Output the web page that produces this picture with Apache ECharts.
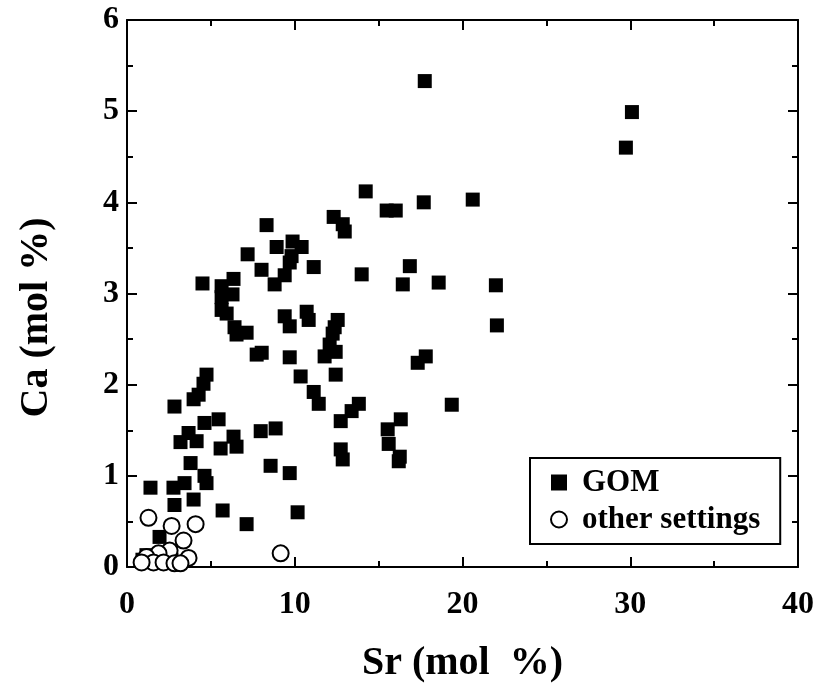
<!DOCTYPE html>
<html lang="en">
<head>
  <meta charset="UTF-8">
  <title>Ca vs Sr</title>
  <script src="https://cdn.jsdelivr.net/npm/echarts@6/dist/echarts.min.js"></script>
</head>
<body style="margin:0;background:#fff;">
  <div id="main" style="width:816px;height:687px;"></div>
  <script>
    // GOM samples: [Sr mol %, Ca mol %]
    var gomData = [
      [17.75, 5.33], [30.10, 4.99], [29.74, 4.60], [14.23, 4.12], [20.61, 4.03],
      [17.69, 4.00], [15.48, 3.91], [16.02, 3.91], [12.32, 3.84], [12.86, 3.76],
      [12.98, 3.68], [8.32, 3.75], [9.87, 3.57], [10.41, 3.51], [8.92, 3.51],
      [9.81, 3.41], [7.19, 3.43], [9.70, 3.34], [9.40, 3.20], [8.02, 3.26],
      [11.13, 3.29], [13.99, 3.21], [16.86, 3.30], [6.35, 3.16], [4.50, 3.11],
      [8.80, 3.10], [16.44, 3.10], [18.58, 3.12], [21.99, 3.09], [5.64, 3.08],
      [6.29, 2.99], [5.64, 2.96], [5.64, 2.82], [5.94, 2.78], [6.41, 2.63],
      [6.53, 2.55], [7.13, 2.57], [10.71, 2.80], [10.83, 2.71], [9.40, 2.75],
      [9.70, 2.64], [12.56, 2.71], [12.38, 2.63], [12.26, 2.56], [22.05, 2.65],
      [7.73, 2.33], [8.03, 2.35], [12.08, 2.44], [12.44, 2.36], [11.78, 2.31],
      [9.70, 2.30], [17.81, 2.31], [17.33, 2.24], [10.35, 2.09], [12.44, 2.11],
      [4.74, 2.11], [4.56, 2.01], [4.27, 1.89], [3.97, 1.84], [11.13, 1.92],
      [11.43, 1.79], [13.82, 1.79], [13.39, 1.71], [19.36, 1.78], [2.83, 1.76],
      [5.46, 1.62], [4.62, 1.58], [12.74, 1.60], [16.32, 1.62], [15.54, 1.51],
      [15.60, 1.35], [6.35, 1.43], [7.97, 1.49], [8.86, 1.52], [3.67, 1.47],
      [4.15, 1.38], [3.19, 1.37], [6.53, 1.32], [5.58, 1.30], [12.74, 1.29],
      [12.86, 1.18], [16.26, 1.21], [16.20, 1.16], [3.79, 1.14], [9.70, 1.03],
      [4.62, 1.00], [8.56, 1.11], [4.74, 0.92], [3.43, 0.92], [2.77, 0.87],
      [1.40, 0.87], [3.97, 0.74], [2.83, 0.68], [5.70, 0.62], [10.17, 0.60],
      [7.13, 0.47], [1.94, 0.33], [1.16, 0.13], [0.92, 0.08], [1.64, 0.05],
      [2.65, 0.08]
    ]
    // other settings
    var otherData = [
      [1.28, 0.54], [2.66, 0.45], [4.09, 0.47], [3.37, 0.29], [2.54, 0.18],
      [3.67, 0.10], [1.88, 0.15], [1.16, 0.11], [1.58, 0.05], [2.18, 0.05],
      [2.83, 0.04], [0.87, 0.05], [3.19, 0.04], [9.16, 0.15]
    ]
    var xName = 'Sr (mol  %)'
    var yName = 'Ca (mol %)'

    var serif = 'Liberation Serif'
    var chart = echarts.init(document.getElementById('main'))

    // common axis look: black line, inward ticks, minor ticks
    function axisBase(extra) {
      var a = {
        type: 'value',
        axisLine: { show: true, onZero: false, lineStyle: { color: '#000', width: 2 } },
        axisTick: { show: true, inside: true, length: 10, lineStyle: { color: '#000', width: 2 } },
        minorTick: { show: true, splitNumber: 2, length: 6, lineStyle: { color: '#000', width: 2 } },
        splitLine: { show: false },
        axisLabel: { show: false }
      }
      for (var k in extra) a[k] = extra[k]
      return a
    }
    var tickFont = { color: '#000', fontFamily: serif, fontWeight: 'bold', fontSize: 32 }
    var nameFont = { color: '#000', fontFamily: serif, fontWeight: 'bold', fontSize: 40 }

    var option = {
      backgroundColor: '#fff',
      animation: false,
      grid: { left: 127, right: 18, top: 20, bottom: 120, outerBoundsMode: 'none' },
      xAxis: [
        axisBase({
          min: 0, max: 40, interval: 10, position: 'bottom',
          name: xName, nameLocation: 'middle', nameGap: 77,
          nameTextStyle: nameFont,
          axisLabel: Object.assign({ show: true, margin: 22 }, tickFont)
        }),
        axisBase({ min: 0, max: 40, interval: 10, position: 'top' })
      ],
      yAxis: [
        axisBase({
          min: 0, max: 6, interval: 1, position: 'left',
          name: yName, nameLocation: 'middle', nameGap: 70,
          nameTextStyle: Object.assign({ padding: [0, 48, 0, 0] }, nameFont),
          axisLabel: Object.assign({ show: true, margin: 8 }, tickFont)
        }),
        axisBase({ min: 0, max: 6, interval: 1, position: 'right' })
      ],
      legend: {
        orient: 'vertical',
        left: 530, top: 458,
        padding: [9, 20, 9, 20],
        itemGap: 6,
        itemWidth: 16, itemHeight: 16,
        borderColor: '#000', borderWidth: 2,
        textStyle: { color: '#000', fontFamily: serif, fontWeight: 'bold', fontSize: 31, padding: [0, 0, 0, 10] },
        data: [
          { name: 'GOM', icon: 'rect' },
          { name: 'other settings', icon: 'circle' }
        ]
      },
      series: [
        {
          name: 'GOM', type: 'scatter', symbol: 'rect', symbolSize: 14,
          itemStyle: { color: '#000', opacity: 1 },
          data: gomData
        },
        {
          name: 'other settings', type: 'scatter', symbol: 'circle', symbolSize: 16,
          itemStyle: { color: '#fff', borderColor: '#000', borderWidth: 2, opacity: 1 },
          data: otherData
        }
      ]
    }
    chart.setOption(option)
  </script>
</body>
</html>
